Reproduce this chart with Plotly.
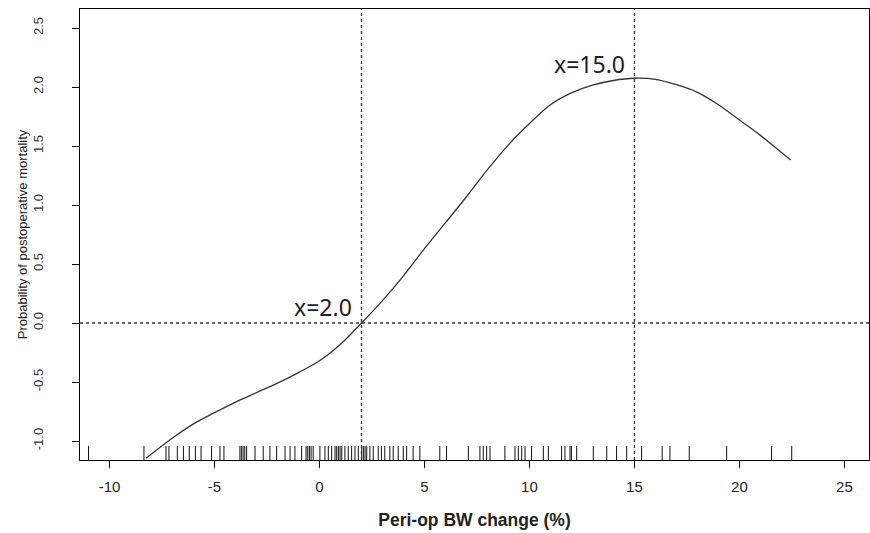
import plotly.graph_objects as go

# Fitted curve
curve_x = [-8.26, -7, -6, -5, -4, -3, -2, -1, 0, 1, 2, 3, 4, 5, 6, 7, 8, 9, 10, 11,
           12, 13, 14, 15, 16, 17, 18, 19, 20, 21, 22, 22.44]
curve_y = [-1.147, -0.975, -0.855, -0.76, -0.67, -0.59, -0.51, -0.42, -0.32, -0.18, 0.0,
           0.19, 0.40, 0.63, 0.85, 1.07, 1.30, 1.51, 1.69, 1.85, 1.95, 2.015, 2.055, 2.074,
           2.065, 2.02, 1.955, 1.85, 1.72, 1.59, 1.445, 1.381]

# Rug (observed BW change values)
rug_x = [-11.0, -8.36, -7.31, -7.17, -6.77, -6.48, -6.20, -5.91, -5.64, -5.14, -4.74, -4.55,
         -3.79, -3.72, -3.64, -3.56, -3.47, -3.07, -2.68, -2.36, -2.04, -1.64, -1.40, -1.17,
         -0.85, -0.64, -0.56, -0.48, -0.40, -0.30, 0.02, 0.26, 0.42, 0.58, 0.74, 0.82, 0.90,
         0.98, 1.06, 1.21, 1.37, 1.53, 1.69, 1.85, 2.01, 2.09, 2.17, 2.25, 2.40, 2.56, 2.80,
         2.95, 3.11, 3.35, 3.51, 3.75, 3.99, 4.15, 4.46, 4.78, 5.73, 6.05, 7.09, 7.64, 7.80,
         7.96, 8.12, 8.83, 9.31, 9.47, 9.63, 9.79, 10.1, 10.66, 10.9, 11.53, 11.69, 11.93,
         12.0, 12.25, 13.04, 13.68, 14.15, 14.63, 15.34, 16.32, 16.69, 17.61, 19.39, 21.53,
         22.49]

ref_x = [2.0, 15.0]
ref_y = 0.0
ann_labels = ["x=2.0", "x=15.0"]
ann_y = [0.136, 2.195]

x_ticks = [-10, -5, 0, 5, 10, 15, 20, 25]
y_ticks = [-1.0, -0.5, 0.0, 0.5, 1.0, 1.5, 2.0, 2.5]

fig = go.Figure()
fig.add_trace(go.Scatter(x=curve_x, y=curve_y, mode="lines",
                         line=dict(color="#333333", width=1.3, shape="spline", smoothing=1.0),
                         showlegend=False, hoverinfo="skip"))

shapes = []
for v in rug_x:
    shapes.append(dict(type="line", xref="x", yref="y domain", x0=v, x1=v, y0=0, y1=0.031,
                       line=dict(color="#111111", width=1)))
for v in ref_x:
    shapes.append(dict(type="line", xref="x", yref="y domain", x0=v, x1=v, y0=0, y1=1,
                       line=dict(color="#333333", width=1.3, dash="dot")))
shapes.append(dict(type="line", xref="x domain", yref="y", x0=0, x1=1, y0=ref_y, y1=ref_y,
                   line=dict(color="#333333", width=1.3, dash="dot")))

annotations = []
for xv, yv, t in zip(ref_x, ann_y, ann_labels):
    annotations.append(dict(x=xv, y=yv, xref="x", yref="y", text=t, showarrow=False,
                            xanchor="right", yanchor="middle", xshift=-7,
                            font=dict(family="Noto Sans", size=23, color="#1c1c2a")))

fig.update_layout(
    width=870, height=533,
    margin=dict(l=80, r=1, t=9, b=73),
    paper_bgcolor="white", plot_bgcolor="white",
    shapes=shapes, annotations=annotations,
    xaxis=dict(range=[-11.405, 26.17], tickvals=x_ticks, ticktext=[str(t) for t in x_ticks],
               automargin=False,
               showgrid=False, zeroline=False, showline=True, mirror=True,
               linecolor="black", linewidth=1, ticks="outside", ticklen=7, tickcolor="black",
               ticklabelstandoff=6,
               tickfont=dict(family="Liberation Sans", size=15, color="#222222"),
               title=dict(text="<b>Peri-op BW change (%)</b>", standoff=19,
                          font=dict(family="Liberation Sans", size=17.5, color="#222222"))),
    yaxis=dict(range=[-1.161, 2.661], tickvals=y_ticks,
               ticktext=[f"{t:.1f}" for t in y_ticks],
               automargin=False,
               showgrid=False, zeroline=False, showline=True, mirror=True,
               linecolor="black", linewidth=1, ticks="outside", ticklen=7, tickcolor="black",
               tickangle=-90, ticklabelstandoff=24,
               tickfont=dict(family="Liberation Sans", size=13, color="#333333"),
               title=dict(text="Probability of postoperative mortality", standoff=0,
                          font=dict(family="Liberation Sans", size=13, color="#222222"))),
)

fig.write_html("out.html", config={"displayModeBar": False},
               post_script="document.body.style.margin='0';document.body.style.overflow='hidden';")
